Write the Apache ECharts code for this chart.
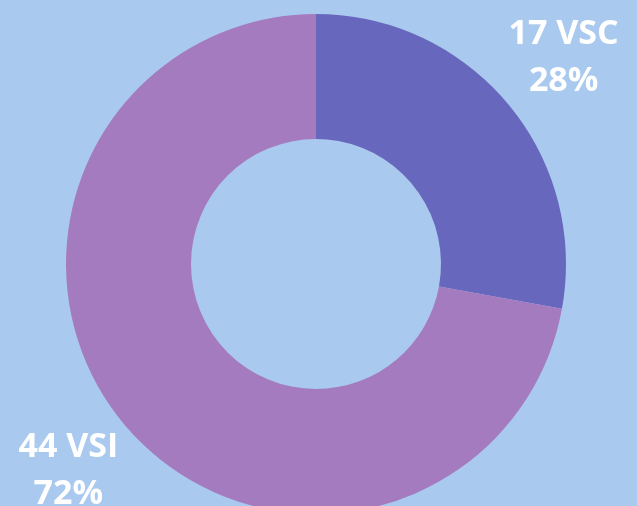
<!DOCTYPE html>
<html>
<head>
<meta charset="utf-8">
<script src="https://cdn.jsdelivr.net/npm/echarts@6/dist/echarts.min.js"></script>
<style>
  html, body { margin: 0; padding: 0; background: #A9C9EE; }
  #chart { width: 637px; height: 506px; }
</style>
</head>
<body>
<div id="chart"></div>
<script>
const categories = ['VSC', 'VSI'];
const counts = [17, 44];
const colors = ['#6767BD', '#A57BC0'];

const chart = echarts.init(document.getElementById('chart'));
const cx = 316, cy = 264, rOuter = 250, rInner = 125;
const total = counts.reduce((a, b) => a + b, 0);

// label sits on the slice's mid-angle, a bit outside the ring
function midAngle(idx) {
  let before = 0;
  for (let i = 0; i < idx; i++) before += counts[i];
  return ((before + counts[idx] / 2) / total) * Math.PI * 2;
}

chart.setOption({
  backgroundColor: '#A9C9EE',
  series: [
    {
      type: 'pie',
      center: [cx, cy],
      radius: [rInner, rOuter],
      startAngle: 90,
      clockwise: true,
      percentPrecision: 0,
      silent: true,
      avoidLabelOverlap: false,
      itemStyle: { borderWidth: 0 },
      label: {
        show: true,
        position: 'outside',
        formatter: '{c} {b}\n{d}%',
        color: '#ffffff',
        fontFamily: 'Open Sans',
        fontWeight: 'bold',
        fontSize: 34,
        lineHeight: 47,
        align: 'center',
        overflow: 'none',
      },
      labelLine: { show: false },
      labelLayout: (p) => {
        const a = midAngle(p.dataIndex);
        const d = rOuter * 1.29;
        return {
          x: cx + Math.sin(a) * d,
          y: cy - Math.cos(a) * d,
          width: 200,
          align: 'center',
          verticalAlign: 'middle',
        };
      },
      data: categories.map((c, i) => ({
        name: c,
        value: counts[i],
        itemStyle: { color: colors[i] },
      })),
    },
  ],
});
</script>
</body>
</html>
